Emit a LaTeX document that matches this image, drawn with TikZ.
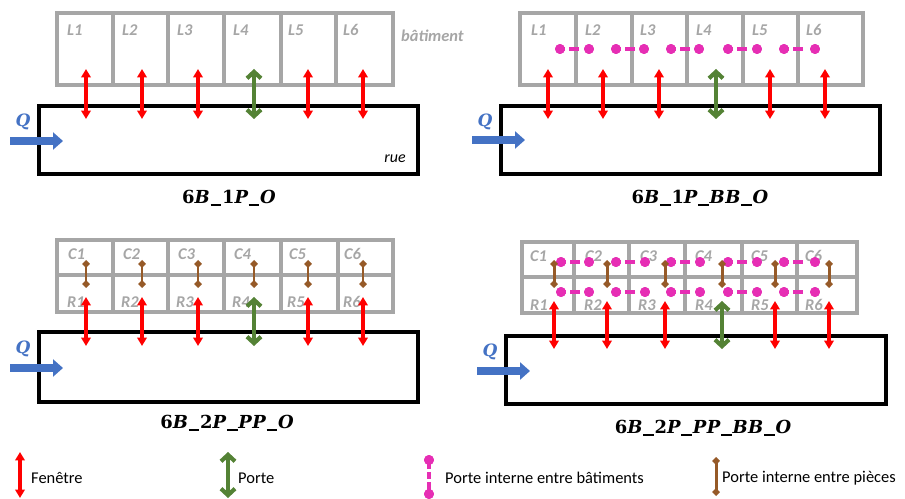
\documentclass[tikz,border=0pt]{standalone}
\usepackage{fontspec}
\setmainfont{Carlito}
\newfontfamily\ttlfont{DejaVu Serif}[LetterSpace=3]
\newfontfamily\qfont{DejaVu Serif}
\usetikzlibrary{arrows.meta}
\definecolor{cfen}{HTML}{FF0000}
\definecolor{cporte}{HTML}{548235}
\definecolor{cmag}{HTML}{E62EB4}
\definecolor{cbrown}{HTML}{965A28}
\definecolor{cblue}{HTML}{4472C4}
\definecolor{cgray}{HTML}{A6A6A6}
\newcommand\usc{\kern0.04em\rule[-0.16em]{0.6em}{0.09em}\kern0.04em}
\newcommand\dg[1]{{\upshape #1}}
\begin{document}
\begin{tikzpicture}[x=1bp,y=-1bp,
  bat/.style={draw=cgray, line width=3.6pt},
  ruebox/.style={draw=black, line width=3.3pt},
  lab/.style={anchor=west, inner sep=0pt, text=cgray, font=\fontsize{16.5}{16.5}\selectfont\bfseries\itshape},
  fenetre/.style={draw=cfen, line width=3.2pt, {Triangle[length=8.5pt,width=9.5pt]}-{Triangle[length=8.5pt,width=9.5pt]}},
  porte/.style={draw=cporte, line width=4.2pt, {Straight Barb[length=6.5pt,width=14pt]}-{Straight Barb[length=6.5pt,width=14pt]}},
  piece/.style={draw=cbrown, line width=3pt, {Diamond[length=8pt,width=8pt]}-{Diamond[length=8pt,width=8pt]}},
  mdash/.style={draw=cmag, line width=3.6pt, dash pattern=on 5pt off 4.5pt on 10pt off 20pt},
  mdot/.style={circle, fill=cmag, inner sep=0pt, minimum size=10pt},
  qarr/.style={draw=cblue, line width=7.5pt, -{Triangle[length=10pt,width=17pt]}},
  qlab/.style={inner sep=0pt, text=cblue, font=\qfont\fontsize{17}{17}\selectfont\bfseries\itshape},
  ttl/.style={inner sep=0pt, font=\ttlfont\fontsize{18}{18}\selectfont\bfseries\itshape},
  ruelab/.style={inner sep=0pt, font=\fontsize{16}{16}\selectfont\itshape},
  leg/.style={anchor=west, inner sep=0pt, font=\fontsize{16.5}{16.5}\selectfont}
]
\useasboundingbox (0,0) rectangle (905,499);

% ---------------- Panel 1 ----------------
\draw[bat] (57,13) rectangle (393,85);
\foreach \x in {113,168,224,281,336} \draw[bat] (\x,13) -- (\x,85);
\foreach \x/\i in {67/1,122/2,177/3,233/4,288/5,343/6} \node[lab] (p1l\i) at (\x,30) {L\i};
\node[lab] (bat) at (401,36) {bâtiment};
\draw[ruebox] (39,106) rectangle (418,174);
\foreach \x in {86,142,198,308,363} \draw[fenetre] (\x,69) -- (\x,119);
\draw[porte] (254,69) -- (254,119);
\node[qlab] (q1) at (23,122) {Q};
\coordinate (q1a) at (10,141); \coordinate (q1b) at (63,141);
\draw[qarr] (q1a) -- (q1b);
\node[ruelab] (rue) at (395,159) {rue};
\node[ttl] (t1) at (229,198) {\dg{6}B\usc\dg{1}P\usc O};

% ---------------- Panel 2 ----------------
\draw[bat] (520,13) rectangle (863,85);
\foreach \x in {576,632,687,743,798} \draw[bat] (\x,13) -- (\x,85);
\foreach \x/\i in {531/1,585/2,640/3,696/4,752/5,806/6} \node[lab] (p2l\i) at (\x,30) {L\i};
\foreach \a/\b [count=\k] in {560/589,616/644,671/699,728/757,784/815}{
  \node[mdot] (p2a\k) at (\a,49) {};
  \node[mdot] (p2b\k) at (\b,49) {};
  \draw[mdash] (p2a\k.center) -- (p2b\k.center);
  \node[mdot] at (\a,49) {}; \node[mdot] at (\b,49) {};
}
\draw[ruebox] (501,106) rectangle (880,174);
\foreach \x in {548,603,659,770,825} \draw[fenetre] (\x,69) -- (\x,119);
\draw[porte] (716,69) -- (716,119);
\node[qlab] (q2) at (485,122) {Q};
\coordinate (q2a) at (472,140); \coordinate (q2b) at (525,140);
\draw[qarr] (q2a) -- (q2b);
\node[ttl] (t2) at (700,198) {\dg{6}B\usc\dg{1}P\usc BB\usc O};

% ---------------- Panel 3 ----------------
\draw[bat] (57,240) rectangle (393,312);
\draw[bat] (57,275) -- (393,275);
\foreach \x in {113,168,224,281,338} \draw[bat] (\x,240) -- (\x,312);
\foreach \c/\r/\i in {68/67/1,123/121/2,178/176/3,234/232/4,289/287/5,344/343/6}{
  \node[lab] (p3c\i) at (\c,254) {C\i};
  \node[lab] (p3r\i) at (\r,302) {R\i};
}
\foreach \x in {86,142,198,254,308,363} \draw[piece] (\x,260) -- (\x,288);
\draw[ruebox] (39,332) rectangle (418,402);
\foreach \x in {86,142,198,308,363} \draw[fenetre] (\x,297) -- (\x,346);
\draw[porte] (254,297) -- (254,346);
\node[qlab] (q3) at (23,349) {Q};
\coordinate (q3a) at (10,368); \coordinate (q3b) at (63,368);
\draw[qarr] (q3a) -- (q3b);
\node[ttl] (t3) at (227,423) {\dg{6}B\usc\dg{2}P\usc PP\usc O};

% ---------------- Panel 4 ----------------
\draw[bat] (522,242) rectangle (857,313);
\draw[bat] (522,277) -- (857,277);
\foreach \x in {574,629,685,742,797} \draw[bat] (\x,242) -- (\x,313);
\foreach \c/\r/\i in {530/530/1,585/584/2,640/638/3,695/695/4,751/751/5,805/805/6}{
  \node[lab] (p4c\i) at (\c,256) {C\i};
  \node[lab] (p4r\i) at (\r,305) {R\i};
}
\foreach \a/\b [count=\k] in {561/589,616/645,671/700,728/757,784/815}{
  \node[mdot] (p4a\k) at (\a,262) {};
  \node[mdot] (p4b\k) at (\b,262) {};
  \draw[mdash] (p4a\k.center) -- (p4b\k.center);
  \node[mdot] at (\a,262) {}; \node[mdot] at (\b,262) {};
  \node[mdot] (p4c\k) at (\a,292) {};
  \node[mdot] (p4d\k) at (\b,292) {};
  \draw[mdash] (p4c\k.center) -- (p4d\k.center);
  \node[mdot] at (\a,292) {}; \node[mdot] at (\b,292) {};
}
\foreach \x in {554,607,665,722,775,829} \draw[piece] (\x,260) -- (\x,288);
\draw[ruebox] (506,336) rectangle (886,404);
\foreach \x in {554,607,665,775,829} \draw[fenetre] (\x,301) -- (\x,349);
\draw[porte] (722,301) -- (722,349);
\node[qlab] (q4) at (490,352) {Q};
\coordinate (q4a) at (477,371); \coordinate (q4b) at (530,371);
\draw[qarr] (q4a) -- (q4b);
\node[ttl] (t4) at (703,428) {\dg{6}B\usc\dg{2}P\usc PP\usc BB\usc O};

% ---------------- Legend ----------------
\coordinate (lf1) at (20,452); \coordinate (lf2) at (20,498);
\draw[fenetre] (lf1) -- (lf2);
\node[leg] (lft) at (31,478) {Fenêtre};
\coordinate (lp1) at (228,452); \coordinate (lp2) at (228,498);
\draw[porte] (lp1) -- (lp2);
\node[leg] (lpt) at (238,478) {Porte};
\node[mdot] (lm1) at (429,460) {};
\node[mdot] (lm2) at (429,494) {};
\draw[draw=cmag, line width=3.4pt, dash pattern=on 9pt off 3pt on 7pt off 3pt] (lm1.center) -- (lm2.center);
\node[mdot] at (429,460) {}; \node[mdot] at (429,494) {};
\node[leg] (lmt) at (445,478) {Porte interne entre bâtiments};
\coordinate (lb1) at (716,457); \coordinate (lb2) at (716,496);
\draw[piece] (lb1) -- (lb2);
\node[leg] (lbt) at (722,478) {Porte interne entre pièces};
\end{tikzpicture}
\end{document}
